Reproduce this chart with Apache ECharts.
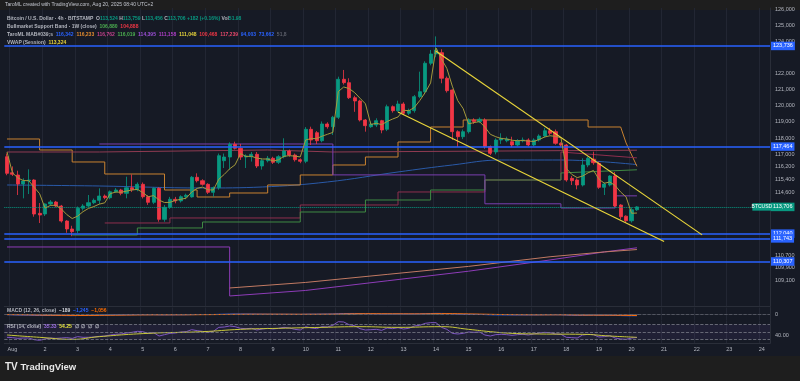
<!DOCTYPE html>
<html><head><meta charset="utf-8">
<script src="https://cdn.jsdelivr.net/npm/echarts@6/dist/echarts.min.js"></script>
<style>
html,body{margin:0;padding:0;background:#1e1e1e;overflow:hidden;}
#bg{position:absolute;left:0;top:10px;width:800px;height:346px;background:#161a25;}
#c{position:absolute;left:0;top:0;width:800px;height:381px;}
</style>
</head><body><div id="bg"></div><div id="c"></div>
<script>
// ---- data ----
const dayLabels = ['Aug','2','3','4','5','6','7','8','9','10','11','12','13','14','15','16','17','18','19','20','21','22','23','24'];
const slotCount = 141;
// 4h candles [open, close, low, high]
const ohlc = [
[116834,115799,115680,117030],[115838,115738,115630,116230],[115693,115132,114447,115962],[115132,115320,114240,115487],[115320,115382,114508,116048],[115382,113262,113094,115430],
[113305,113200,112701,113948],[113262,113886,113137,113930],[113886,114011,113780,114130],[114011,113761,113680,114080],[113761,112826,112730,113830],[112826,112330,112096,112880],
[112330,112160,111880,112530],[112230,113617,112080,113730],[113617,113761,113480,113880],[113761,113969,113680,114447],[113969,114115,113880,114230],[114115,114384,113880,114864],
[114384,114280,114180,114480],[114280,114652,114180,114730],[114652,114758,114580,114880],[114758,114552,114430,114830],[114552,114901,114241,115587],[114901,114780,114630,115730],
[114780,115113,114680,115230],[115113,114341,114230,115230],[114341,113991,113830,114430],[113991,114864,113880,114930],[114864,112931,112782,114930],[112931,113680,112780,113830],
[113680,114179,113580,114330],[114179,114080,113930,114330],[114080,114341,113980,114430],[114341,114430,114180,114530],[114330,115550,114280,115630],[115550,115338,115230,115799],
[115338,115113,115030,115430],[115113,114615,114508,115180],[114615,114901,114341,114980],[114901,116896,114780,117030],[116585,116815,116130,117030],[116815,117607,116030,117730],
[117607,117358,117280,117770],[117358,116815,116630,117630],[116815,116880,116130,116980],[116834,116984,116530,117130],[116984,116254,116130,117130],[116254,116585,116030,116730],
[116585,116734,116480,116880],[116734,116485,116380,116830],[116485,116834,116380,116930],[116834,117189,116730,117981],[117189,116940,116830,117280],[116940,116647,116530,117030],
[116647,116547,116430,116730],[116547,118542,116430,118680],[118542,117875,117563,118704],[118330,117831,117630,118430],[117831,118873,117730,119030],[118873,118704,118580,118980],
[118704,119290,118187,119380],[119290,121659,119180,121821],[121659,121447,121330,122239],[121447,120512,120430,121722],[120512,120306,119630,120630],[120306,119122,119030,120380],
[119122,118767,118393,119180],[118704,118873,118630,119030],[118810,119080,118680,119228],[119080,118499,118293,119130],[118542,119951,118430,120080],[119951,119702,119580,120030],
[119702,120119,119630,120325],[120119,119540,119430,120230],[119540,119706,119430,119830],[119706,120575,119580,120680],[120575,120886,120480,122133],[120886,122657,120730,122780],
[122657,123236,122530,123486],[123236,123480,123030,124330],[123317,121722,121410,123530],[121722,120948,120830,121830],[120990,118393,117875,121030],[118393,118081,117430,118480],
[118081,118393,117930,118530],[118393,119122,118280,119230],[119122,119020,118880,119230],[119020,119165,118930,119280],[119122,117457,117330,119230],[117457,117046,116940,117530],
[117130,117875,116980,117980],[117875,117981,117630,118293],[117830,117930,117730,118080],[117770,117563,117430,118080],[117563,117831,117480,117930],[117831,117875,117730,118030],
[117875,117563,117480,117980],[117563,117875,117480,117980],[117875,118125,117780,118230],[118125,118455,118030,118630],[118455,118293,118180,118630],[118393,117669,117580,118530],
[117669,117563,117430,117730],[117563,115382,115276,117630],[115487,115338,115070,115630],[115382,115070,114802,115480],[115070,116317,114980,116734],[116317,116734,116180,116834],
[116680,116460,116330,117146],[116420,114927,114830,116530],[114927,115132,114447,115230],[115070,115631,114980,115680],[115631,113761,113680,115880],[113823,113094,112930,113880],
[113130,112844,112720,113180],[112844,113530,112730,113680],[113524,113706,113456,113759]
];
const vwap = [117130,
115830,115510,115350,115340,114930,114530, 113630,113800,113810,113580,113230,112980,
113130,113410,113610,113730,113880,113960, 114530,114630,114620,114690,114760,114800,
114600,114340,114410,114130,113980,113990, 114110,114180,114250,114630,114860,114940,
114770,114760,115430,115730,116080,116330, 117030,116850,116860,116750,116690,116690,
116570,116640,116860,116900,116870,116820, 117880,117960,117960,118110,118230,118350,
120890,121180,121080,120830,120480,120130, 118840,118920,118830,119030,119180,119310,
119730,119700,119900,120330,120830,121430, 123610,122930,122330,121230,120330,119830,
118880,118960,119020,118680,118230,118080, 117970,117940,117860,117830,117840,117810,
117780,117910,118060,118140,118100,118020, 116100,115730,115530,115630,115830,115980,
115430,115180,115260,115030,114630,114330, 113310,113324];
// MAB lines as [slot, value] breakpoints
const mabBlue = [[0,115072],[17,115009],[36,114885],[47,114947],[59,115259],[72,115882],[82,116318],[91,116629],[102,116629],[116,116342]];
const mabOrange = [[0,117938],[6,117938],[6,117252],[12,117252],[12,116505],[18,116505],[18,115757],[29,115757],[29,114760],[35,114760],[35,114324],[41,114324],[41,114573],[48,114573],[48,115072],[54,115072],[54,115695],[60,115695],[60,116318],[66,116318],[66,116816],[72,116816],[72,117751],[78,117751],[78,118685],[84,118685],[84,119122],[107,119122],[107,118685],[113,118685],[114,117689],[116,116233]];
const mabPinkRed = [[0,117128],[17,117128],[17,117252],[48,117252],[48,117128],[60,117128],[60,117252],[116,117239]];
const mabMagenta = [[18,112704],[30,112704],[30,113016],[54,113016],[54,113826],[72,113826],[72,114636],[88,114636],[88,115383],[102,115383],[102,117128],[116,116762]];
const mabGreen = [[12,111956],[24,111956],[24,112393],[36,112393],[36,112766],[54,112766],[54,113389],[66,113389],[66,114137],[78,114137],[78,114760],[88,114760],[88,115383],[102,115383],[102,115821],[116,116019]];
const mabPurple = [[17,117626],[60,117626],[60,115700],[88,115700],[88,113900],[102,113900],[102,113640],[112,113640],[112,114395],[116,114395]];
const mabMagenta2 = [[0,111209],[41,111209],[41,108156],[55,108500],[70,109100],[85,109700],[100,110400],[110,110900],[116,111158]];
const mabYellow = [[41,108654],[55,109000],[70,109500],[85,110000],[100,110600],[110,110900],[116,111048]];
const trendUpper = [[79,123402],[128,111963]];
const trendLower = [[72,119620],[121,111551]];
const levelLines = [123736,117464,112040,111743,110307];
const lastPrice = 113706;
const grayLevel = 112870;
const priceTicks = [126000,125000,124000,122000,121000,120000,119000,118000,117000,116200,115400,114600,110700,109900,109100];
const macdLine = [-200,-350,-500,-600,-650,-850,-1000,-1020,-1000,-980,-1030,-1100,-1150,-1050,-950,-850,-750,-650,-580,-500,-420,-370,-300,-250,-190,-200,-230,-180,-300,-330,-300,-280,-250,-230,-120,-40,0,0,20,180,300,420,480,470,460,440,370,330,300,250,240,250,230,190,150,280,330,340,420,460,520,780,970,1030,1040,960,860,770,700,600,620,610,620,580,540,580,640,810,980,1130,1080,990,720,440,260,180,110,60,-100,-280,-350,-380,-400,-430,-430,-420,-430,-410,-370,-310,-270,-290,-310,-560,-740,-860,-830,-740,-670,-740,-790,-760,-900,-1080,-1220,-1250,-1245];
const macdSignal = [-100,-150,-220,-300,-370,-460,-570,-660,-730,-780,-830,-880,-930,-950,-950,-930,-900,-850,-800,-740,-680,-620,-560,-500,-440,-390,-360,-320,-320,-320,-320,-310,-300,-290,-250,-210,-170,-130,-100,-40,30,110,180,240,280,310,320,320,320,310,300,290,280,260,240,250,260,280,300,330,370,450,550,650,720,770,790,790,770,740,720,700,680,660,640,630,630,660,720,800,860,890,850,770,670,570,480,400,300,190,90,0,-80,-150,-210,-250,-290,-320,-330,-330,-320,-310,-310,-360,-440,-520,-580,-610,-620,-650,-680,-700,-740,-810,-890,-980,-1056];
const macdHist = [-100,-200,-280,-300,-280,-390,-430,-360,-270,-200,-200,-220,-220,-100,0,80,150,200,220,240,260,250,260,250,250,190,130,140,20,-10,20,30,50,60,130,170,170,130,120,220,270,310,300,230,180,130,50,10,-20,-60,-60,-40,-50,-70,-90,30,70,60,120,130,150,330,420,380,320,190,70,-20,-70,-140,-100,-90,-60,-80,-100,-50,10,150,260,330,220,100,-130,-330,-410,-390,-370,-340,-400,-470,-440,-380,-320,-280,-220,-170,-140,-90,-40,20,50,20,0,-200,-300,-340,-250,-130,-50,-90,-110,-60,-160,-270,-330,-270,-189];
const rsi = [35.8,35,33,34,34,29.5,27.8,31.3,34,33,34,35,33,37.6,35.8,35.8,36.7,38.4,39.3,42,43.8,44.7,47.3,49.1,51.8,50.9,46.4,48.2,39.3,42.9,46.4,47.3,50,50.9,56.2,53.6,51.8,49.1,51.8,62.4,63.3,66,64.2,59.8,58.9,59.8,55.3,58,59.8,58,59.8,62.4,60.7,57.1,55.3,64.2,60.7,58.9,64.2,63.3,67.8,77.5,76.7,69.5,66.9,58.9,55.3,56.2,57.1,54.4,60.7,58.9,61.5,58,59.8,66,67.8,73.1,74.9,74.9,62.4,57.1,46.4,44.7,46.4,50,49.1,50,42,39.3,42.9,43.8,42.9,41.1,42.9,43.8,42,44.7,47.3,49.1,48.2,44.7,43.8,35.8,35,34,42,43.8,42.9,36.7,37.6,40.2,34,31.3,30.4,34,35.33];
const rsiMa = [[0,42],[6,35.8],[12,30.4],[17,37.6],[26,46.4],[36,50.9],[43,57.1],[50,59.8],[58,62.4],[65,64.2],[72,62.4],[80,64.2],[85,57.1],[89,50.9],[93,46.4],[98,44.7],[106,43.8],[111,39.3],[116,35.8]];

// ---- chart ----
const cats = [];
for (let k = 0; k < slotCount; k++) cats.push('s' + k);
const isDay = (i) => (i - 1) % 6 === 0;
const dayName = (i) => isDay(i) ? dayLabels[(i - 1) / 6] : '';
const FONT = 'Liberation Sans, Arial, sans-serif';
const axisTxt = '#b2b5be';
const gridCol = '#222633';
const fmt = (v) => v.toLocaleString('en-US');

function xAx(gi, showLabel) {
  return {
    type: 'category', gridIndex: gi, data: cats, boundaryGap: true,
    axisLine: {show: true, lineStyle: {color: '#2a2e39'}},
    axisTick: {show: false},
    axisLabel: {show: showLabel, interval: (i) => isDay(i), formatter: (v, i) => dayName(i),
      color: axisTxt, fontSize: 5.5, fontFamily: FONT, margin: 3},
    splitLine: {show: true, interval: (i) => isDay(i), lineStyle: {color: gridCol, width: 1}}
  };
}
const lineS = (data, color, w, extra) => Object.assign({
  type: 'line', xAxisIndex: 0, yAxisIndex: 0, data: data, symbol: 'none',
  lineStyle: {color: color, width: w || 1}, silent: true, z: 3
}, extra || {});
const boxLbl = (txt, bg) => ({show: true, position: 'end', formatter: txt, color: '#fff',
  backgroundColor: bg, padding: [1.5, 2, 1, 2], fontSize: 5.5, fontFamily: FONT, distance: 1});
const blueLbl = (v) => ({yAxis: v, lineStyle: {color: '#2962ff', width: 1.6, type: 'solid'}, label: boxLbl(fmt(v), '#2962ff')});
const T = (c, s) => ({color: c, fontSize: s || 5, fontFamily: FONT});

const chart = echarts.init(document.getElementById('c'), null, {renderer: 'canvas'});
const option = {
  animation: false,
  backgroundColor: 'transparent',
  title: [
    {text: 'TaroML created with TradingView.com, Aug 20, 2025 08:40 UTC+2', left: 5, top: 2.5, padding: 0,
      textStyle: {color: '#c3c6ce', fontSize: 5, fontWeight: 'normal', fontFamily: FONT}},
    {text: '{g|Bitcoin / U.S. Dollar · 4h · BITSTAMP  O}{v|113,524}{g| H}{v|113,759}{g| L}{v|113,456}{g| C}{v|113,706 +182 (+0.16%)}{g| Vol}{v|51.98}',
      left: 7, top: 16.5, padding: 0, textStyle: {rich: {g: T('#b2b5be'), v: T('#089981')}}},
    {text: '{g|Bullmarket Support Band · 1W (close)  }{gr|106,880}{r|  104,888}',
      left: 7, top: 24.5, padding: 0, textStyle: {rich: {g: T('#b2b5be'), gr: T('#4caf50'), r: T('#f23645')}}},
    {text: '{g|TaroML MAB#039;s  }{b|116,342}{s|  }{o|116,233}{s|  }{p|116,762}{s|  }{gr|116,019}{s|  }{pu|114,395}{s|  }{m|111,158}{s|  }{y|111,048}{s|  }{r|100,468}{s|  }{pr|117,239}{s|  }{b|94,003}{s|  }{b|73,662}{s|  }{gy|51,8}',
      left: 7, top: 32.5, padding: 0, textStyle: {rich: {
        g: T('#b2b5be'), s: T('#b2b5be'), b: T('#2962ff'), o: T('#e08a2e'), p: T('#c2418b'), gr: T('#4caf50'),
        pu: T('#9c4fd6'), m: T('#b03fc9'), y: T('#e6d33b'), r: T('#f23645'), pr: T('#e5486a'), gy: T('#5d606b')}}},
    {text: '{g|VWAP (Session)  }{y|113,324}', left: 7, top: 40.5, padding: 0,
      textStyle: {rich: {g: T('#b2b5be'), y: T('#e6d33b')}}},
    {text: '{g|MACD (12, 26, close)  }{w|−189}{b|  −1,245}{o|  −1,056}', left: 7, top: 308.5, padding: 0,
      textStyle: {rich: {g: T('#b2b5be'), w: T('#d1d4dc'), b: T('#2962ff'), o: T('#ff6d00')}}},
    {text: '{g|RSI (14, close)  }{p|35.33}{y|  54.25}{g|  ∅  ∅  ∅  ∅}', left: 7, top: 324.5, padding: 0,
      textStyle: {rich: {g: T('#b2b5be'), p: T('#9c6fe0'), y: T('#e6e63b')}}},
    {text: '{l|TV}{t| TradingView}', left: 5, top: 362, padding: 0,
      textStyle: {rich: {l: {color: '#e8e8e8', fontSize: 10, fontWeight: 'bold', fontFamily: FONT}, t: {color: '#e8e8e8', fontSize: 9.5, fontWeight: 'bold', fontFamily: FONT}}}}
  ],
  grid: [
    {left: 4.3, right: 30, top: 8, height: 298.5},
    {left: 4.3, right: 30, top: 307.5, height: 13},
    {left: 4.3, right: 30, top: 320.75, height: 22.5}
  ],
  xAxis: [xAx(0, false), xAx(1, false), xAx(2, true)],
  yAxis: [
    {type: 'value', gridIndex: 0, position: 'right', min: 107500, max: 126100, scale: true,
      axisLine: {show: true, lineStyle: {color: '#2a2e39'}}, axisTick: {show: false},
      axisLabel: {customValues: priceTicks, color: axisTxt, fontSize: 5.5, fontFamily: FONT, margin: 5, formatter: fmt},
      splitLine: {show: false}},
    {type: 'value', gridIndex: 1, position: 'right', min: -6000, max: 7000,
      axisLine: {show: true, lineStyle: {color: '#2a2e39'}}, axisTick: {show: false},
      axisLabel: {customValues: [0], color: axisTxt, fontSize: 5.5, fontFamily: FONT, margin: 5}, splitLine: {show: false}},
    {type: 'value', gridIndex: 2, position: 'right', min: 20, max: 80,
      axisLine: {show: true, lineStyle: {color: '#2a2e39'}}, axisTick: {show: false},
      axisLabel: {customValues: [40], color: axisTxt, fontSize: 5.5, fontFamily: FONT, margin: 5, formatter: (v) => v.toFixed(2)}, splitLine: {show: false}}
  ],
  series: [
    lineS(mabBlue, '#2a5aa8', 1, {smooth: 0.4}),
    lineS(mabOrange, '#c98230', 1),
    lineS(mabPinkRed, '#8f3b52', 1),
    lineS(mabMagenta, '#8f2f4e', 1),
    lineS(mabGreen, '#3f8a43', 1),
    lineS(mabPurple, '#7a3fb0', 1),
    lineS(mabMagenta2, '#8e3cb8', 1),
    lineS(mabYellow, '#c27a63', 1),
    {
      type: 'candlestick', xAxisIndex: 0, yAxisIndex: 0, data: ohlc, barWidth: 3.6, z: 4,
      itemStyle: {color: '#089981', color0: '#f23645', borderColor: '#089981', borderColor0: '#f23645', borderWidth: 0.8},
      markLine: {
        silent: true, symbol: ['none', 'none'], animation: false,
        data: levelLines.map(blueLbl).concat([
          {yAxis: grayLevel, lineStyle: {opacity: 0}, label: boxLbl(fmt(grayLevel), '#5d606b')},
          {yAxis: lastPrice, lineStyle: {color: '#089981', width: 1, type: 'dotted'}, label: boxLbl(fmt(lastPrice), '#089981')}
        ])
      },
      markPoint: {
        silent: true, animation: false,
        data: [{coord: ['s139', lastPrice], symbol: 'rect', symbolSize: [19, 7.5],
          itemStyle: {color: '#089981'},
          label: {show: true, position: 'inside', formatter: 'BTCUSD', color: '#fff', fontSize: 5, fontFamily: FONT}}]
      }
    },
    lineS(vwap, '#a59a3c', 1, {z: 5}),
    lineS(trendUpper, '#e8d53a', 1.2, {z: 6}),
    lineS(trendLower, '#e8d53a', 1.2, {z: 6}),
    {type: 'bar', xAxisIndex: 1, yAxisIndex: 1, data: macdHist, barWidth: 3.6, silent: true,
      itemStyle: {color: (p) => {
        const v = p.value, pv = p.dataIndex > 0 ? macdHist[p.dataIndex - 1] : v;
        if (v >= 0) return v >= pv ? '#26a69a' : '#b2dfdb';
        return v <= pv ? '#ff5252' : '#ffcdd2';
      }},
      markLine: {silent: true, symbol: ['none', 'none'], data: [{yAxis: 0}], label: {show: false},
        lineStyle: {color: '#5d606b', type: 'dashed', width: 0.8}}},
    {type: 'line', xAxisIndex: 1, yAxisIndex: 1, data: macdLine, symbol: 'none', lineStyle: {color: '#2962ff', width: 1}, silent: true},
    {type: 'line', xAxisIndex: 1, yAxisIndex: 1, data: macdSignal, symbol: 'none', lineStyle: {color: '#ff6d00', width: 1}, silent: true},
    {type: 'line', xAxisIndex: 2, yAxisIndex: 2, data: rsi, symbol: 'none', lineStyle: {color: '#7e57c2', width: 1}, silent: true,
      markArea: {silent: true, itemStyle: {color: 'rgba(126,87,194,0.10)'}, data: [[{yAxis: 30}, {yAxis: 70}]]},
      markLine: {silent: true, symbol: ['none', 'none'], label: {show: false},
        lineStyle: {color: '#787b86', type: 'dashed', width: 0.8}, data: [{yAxis: 70}, {yAxis: 50}, {yAxis: 30}]}},
    {type: 'line', xAxisIndex: 2, yAxisIndex: 2, data: rsiMa, symbol: 'none', smooth: 0.5, lineStyle: {color: '#c9c93a', width: 1}, silent: true}
  ]
};
chart.setOption(option);
</script>
</body></html>
